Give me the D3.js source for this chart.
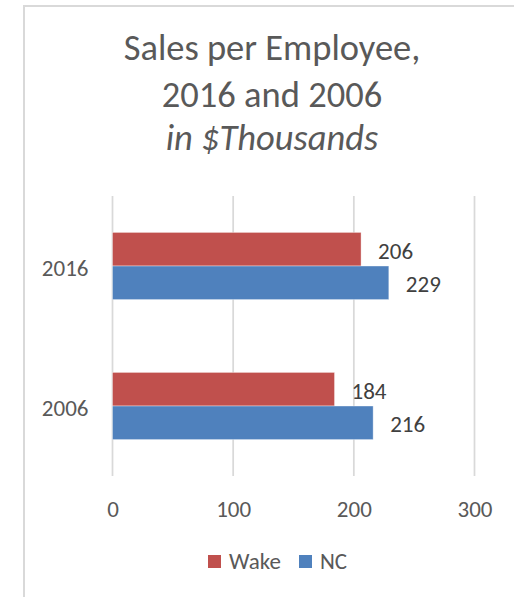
<!DOCTYPE html>
<html>
<head>
<meta charset="utf-8">
<script src="https://cdn.jsdelivr.net/npm/d3@7"></script>
<style>
    body { margin: 0; background: #fff; }
    text { font-family: Carlito, Calibri, "Open Sans", sans-serif; }
</style>
</head>
<body>
<svg id="chart"></svg>
<script>
// values
const years = ["2016", "2006"];
const wake = [206, 184];
const nc = [229, 216];
const seriesNames = ["Wake", "NC"];
const xTicks = [0, 100, 200, 300];
const titleLines = ["Sales per Employee,", "2016 and 2006", "in $Thousands"];

const colors = ["#C0504D", "#4F81BD"];

class hBar {
    margin = { top: 196, right: 40, bottom: 121, left: 112.5 }

    constructor(svg, width = 514, height = 597) {
        this.svg = d3.select(svg);
        this.width = width;
        this.height = height;
    }

    initialize() {
        this.svg.attr("width", this.width).attr("height", this.height);

        // outer chart box, right and bottom edges run off the picture
        this.svg.append("rect")
            .attr("x", 24).attr("y", 6)
            .attr("width", 600).attr("height", 700)
            .attr("fill", "#fff")
            .attr("stroke", "#d9d9d9")
            .attr("stroke-width", 2);

        this.title = this.svg.append("g");
        this.grid = this.svg.append("g");
        this.bars = this.svg.append("g");
        this.labels = this.svg.append("g");
        this.xAxis = this.svg.append("g");
        this.yAxis = this.svg.append("g");
        this.legend = this.svg.append("g");

        this.xScale = d3.scaleLinear()
            .domain([0, 300])
            .range([this.margin.left, 474.5]);

        this.yScale = d3.scaleBand()
            .domain(years)
            .range([this.margin.top, this.height - this.margin.bottom])
            .paddingInner(0.52)
            .paddingOuter(0.26);

        this.subScale = d3.scaleBand()
            .domain(seriesNames)
            .range([0, this.yScale.bandwidth()]);
    }

    update() {
        const baselines = [60, 107, 150];
        this.title.selectAll("text")
            .data(titleLines)
            .join("text")
            .attr("x", 272)
            .attr("y", (d, i) => baselines[i])
            .attr("text-anchor", "middle")
            .attr("font-size", 36.5)
            .attr("font-style", (d, i) => i === 2 ? "italic" : "normal")
            .attr("fill", "#595959")
            .text(d => d);

        // vertical gridlines
        this.grid.selectAll("line")
            .data(xTicks)
            .join("line")
            .attr("x1", d => this.xScale(d))
            .attr("x2", d => this.xScale(d))
            .attr("y1", this.margin.top)
            .attr("y2", this.height - this.margin.bottom)
            .attr("stroke", "#d9d9d9")
            .attr("stroke-width", 1.75);

        const rows = [];
        years.forEach((y, i) => {
            rows.push({ year: y, series: "Wake", value: wake[i] });
            rows.push({ year: y, series: "NC", value: nc[i] });
        });
        const color = d3.scaleOrdinal().domain(seriesNames).range(colors);

        this.bars.selectAll("rect")
            .data(rows)
            .join("rect")
            .attr("x", this.xScale(0))
            .attr("y", d => this.yScale(d.year) + this.subScale(d.series))
            .attr("width", d => this.xScale(d.value) - this.xScale(0))
            .attr("height", this.subScale.bandwidth())
            .attr("fill", d => color(d.series))
            .attr("stroke", "#fff")
            .attr("stroke-opacity", 0.5)
            .attr("stroke-width", 0.75);

        this.labels.selectAll("text")
            .data(rows)
            .join("text")
            .attr("x", d => this.xScale(d.value) + 17)
            .attr("y", d => this.yScale(d.year) + this.subScale(d.series) + this.subScale.bandwidth() / 2 + 9.5)
            .attr("font-size", 23)
            .attr("fill", "#404040")
            .text(d => d.value);

        // x axis: labels only, no line
        const xa = d3.axisBottom(this.xScale).tickValues(xTicks).tickSize(0).tickPadding(0);
        this.xAxis
            .attr("transform", `translate(0, 500)`)
            .attr("font-family", null)
            .call(xa)
            .call(g => g.select(".domain").remove())
            .selectAll("text")
            .attr("dy", "0.74em")
            .attr("font-size", 23)
            .attr("fill", "#595959");

        const ya = d3.axisLeft(this.yScale).tickSize(0).tickPadding(24);
        this.yAxis
            .attr("transform", `translate(${this.margin.left}, 0)`)
            .attr("font-family", null)
            .call(ya)
            .call(g => g.select(".domain").remove())
            .selectAll("text")
            .attr("dy", "0.45em")
            .attr("font-size", 23)
            .attr("fill", "#595959");
        this.xAxis.attr("font-family", null);
        this.yAxis.attr("font-family", null);

        // legend
        const items = this.legend.selectAll("g")
            .data(seriesNames)
            .join("g")
            .attr("transform", (d, i) => `translate(${[208, 299][i]}, 555)`);
        items.append("rect")
            .attr("width", 13).attr("height", 13)
            .attr("fill", d => color(d));
        items.append("text")
            .attr("x", 21).attr("y", 13.5)
            .attr("font-size", 23)
            .attr("fill", "#595959")
            .text(d => d);
    }
}

const chart = new hBar("#chart");
chart.initialize();
chart.update();
</script>
</body>
</html>
